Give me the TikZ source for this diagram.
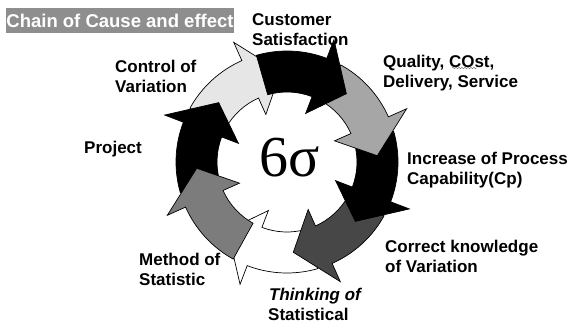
\documentclass[tikz,border=0pt]{standalone}
\usepackage{fontspec}
\setmainfont{Liberation Sans}
\newfontfamily\sigmafont{Liberation Serif}
\newfontfamily\slantfont{Liberation Sans Bold}[FakeSlant=0.2]
\usepackage{tikz}
\usepackage{xcolor}
\usetikzlibrary{decorations.pathmorphing}
\definecolor{csPale}{HTML}{E6E6E6}
\definecolor{csLight}{HTML}{A6A6A6}
\definecolor{csMid}{HTML}{7C7C7C}
\definecolor{csDark}{HTML}{474747}
\definecolor{csTitle}{HTML}{8E8E8E}
\tikzset{
  cycleArrow/.style={draw=black, line width=0.7pt, line join=miter},
  labelText/.style={font=\fontsize{17}{20}\selectfont\bfseries, align=left, anchor=north west, inner sep=0pt},
  titleBox/.style={fill=csTitle, text=white, font=\fontsize{18.5}{20}\selectfont\bfseries, minimum width=226pt, minimum height=25pt, inner sep=0pt},
  spellMark/.style={draw=gray, line width=0.5pt, decorate, decoration={snake, amplitude=0.8pt, segment length=3pt}}
}

\begin{document}
\begin{tikzpicture}[x=1pt,y=1pt]
  \useasboundingbox (0,0) rectangle (570,324);
  % ring of eight arrows, back to front
  \begin{scope}[shift={(287,162)}]
    \foreach \b/\c in {-111/white,114/csPale,159/black,-156/csMid,-66/csDark,-21/black,24/csLight,69/black}
      \filldraw[cycleArrow, fill=\c] (\b+37:111) arc[start angle=\b+37, end angle=\b, radius=111]
        -- (\b:131) -- (\b-20:90.5) -- (\b:52) -- (\b:70)
        arc[start angle=\b, end angle=\b+37, radius=70] -- cycle;
  \end{scope}
  \node[font=\sigmafont\fontsize{58}{58}\selectfont, anchor=base, inner sep=0pt] (sixSigma) at (290,147) {6σ};
  \node[titleBox] (title) at (120,303.5) {Chain of Cause and effect};
  % labels round the ring
  \node[labelText] (custSat) at (252,310.4) {Customer\\Satisfaction};
  \node[labelText] (quality) at (383,269.4) {Quality, COst,\\Delivery, Service};
  \node[labelText] (capability) at (407,172.4) {Increase of Process\\Capability(Cp)};
  \node[labelText] (knowledge) at (385,84.4) {Correct knowledge\\of Variation};
  \node[labelText] (thinking) at (268,36.4) {{\slantfont Thinking of}\\Statistical};
  \node[labelText] (method) at (139,71.4) {Method of\\Statistic};
  \node[labelText] (project) at (84,183.4) {Project};
  \node[labelText] (control) at (115,264.4) {Control of\\Variation};
  \draw[spellMark] (452,256) -- (477,256);
\end{tikzpicture}
\end{document}
